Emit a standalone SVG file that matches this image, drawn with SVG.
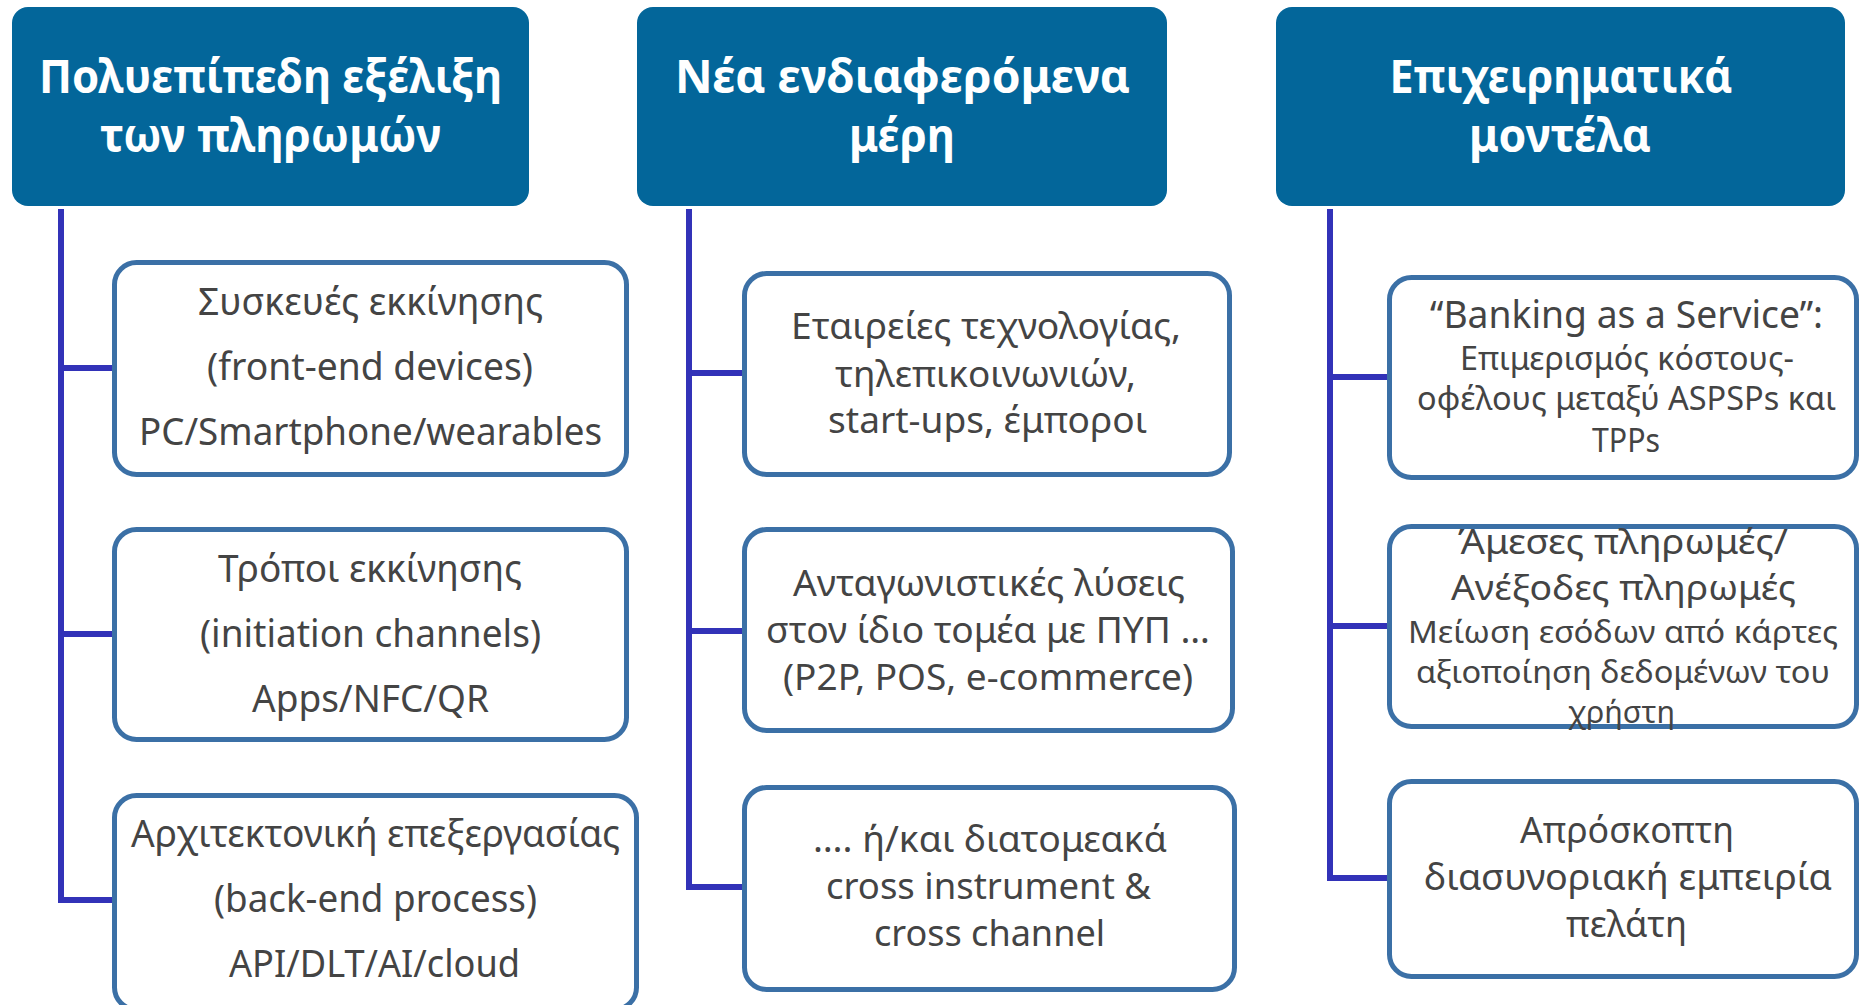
<svg xmlns="http://www.w3.org/2000/svg" width="1861" height="1005" viewBox="0 0 1861 1005">
<style>
.hdr{fill:#03669A}
.box{fill:#FFFFFF;stroke:#3B70A6;stroke-width:5}
.ht{font-family:"Noto Sans","Open Sans","Liberation Sans",sans-serif;font-weight:bold;font-size:46px;fill:#FFFFFF;text-anchor:middle}
.t{font-family:"Noto Sans","Open Sans","Liberation Sans",sans-serif;fill:#444444;text-anchor:middle}
.s38{font-size:38px}
.s36{font-size:36px}
.s35{font-size:35px}
.s32{font-size:32px}
.s31{font-size:31px}
.conn{fill:none;stroke:#3232B8;stroke-width:6;stroke-linecap:butt;stroke-linejoin:miter}
</style>
<rect width="1861" height="1005" fill="#FFFFFF"/>
<g id="connectors">
<path class="conn" d="M61,209 V900 H112 M61,368 H112 M61,634 H112"/>
<path class="conn" d="M689,209 V887 H742 M689,373 H742 M689,631 H742"/>
<path class="conn" d="M1330,209 V878 H1387 M1330,377 H1387 M1330,626 H1387"/>
</g>
<g id="header1">
<rect class="hdr" x="12" y="7" width="517" height="199" rx="16"/>
<text class="ht" x="270.5" y="93" textLength="463" lengthAdjust="spacingAndGlyphs">Πολυεπίπεδη εξέλιξη</text>
<text class="ht" x="270.5" y="152" textLength="341" lengthAdjust="spacingAndGlyphs">των πληρωμών</text>
</g>
<g id="header2">
<rect class="hdr" x="637" y="7" width="530" height="199" rx="16"/>
<text class="ht" x="902.5" y="93" textLength="455" lengthAdjust="spacingAndGlyphs">Νέα ενδιαφερόμενα</text>
<text class="ht" x="902" y="152" textLength="106" lengthAdjust="spacingAndGlyphs">μέρη</text>
</g>
<g id="header3">
<rect class="hdr" x="1276" y="7" width="569" height="199" rx="16"/>
<text class="ht" x="1561" y="93" textLength="343" lengthAdjust="spacingAndGlyphs">Επιχειρηματικά</text>
<text class="ht" x="1560" y="152" textLength="182" lengthAdjust="spacingAndGlyphs">μοντέλα</text>
</g>
<g id="box1">
<rect class="box" x="114.5" y="262.5" width="512" height="212" rx="22"/>
<text class="t s38" x="370.5" y="315" textLength="345" lengthAdjust="spacingAndGlyphs">Συσκευές εκκίνησης</text>
<text class="t s38" x="370" y="380" textLength="326" lengthAdjust="spacingAndGlyphs">(front-end devices)</text>
<text class="t s38" x="370.5" y="445" textLength="463" lengthAdjust="spacingAndGlyphs">PC/Smartphone/wearables</text>
</g>
<g id="box2">
<rect class="box" x="114.5" y="529.5" width="512" height="210" rx="22"/>
<text class="t s38" x="370" y="582" textLength="304" lengthAdjust="spacingAndGlyphs">Τρόποι εκκίνησης</text>
<text class="t s38" x="370.5" y="647" textLength="341" lengthAdjust="spacingAndGlyphs">(initiation channels)</text>
<text class="t s38" x="370.5" y="712" textLength="237" lengthAdjust="spacingAndGlyphs">Apps/NFC/QR</text>
</g>
<g id="box3">
<rect class="box" x="114.5" y="795.5" width="522" height="214" rx="22"/>
<text class="t s38" x="375.5" y="847" textLength="489" lengthAdjust="spacingAndGlyphs">Αρχιτεκτονική επεξεργασίας</text>
<text class="t s38" x="375.5" y="912" textLength="323" lengthAdjust="spacingAndGlyphs">(back-end process)</text>
<text class="t s38" x="374.5" y="977" textLength="291" lengthAdjust="spacingAndGlyphs">API/DLT/AI/cloud</text>
</g>
<g id="box4">
<rect class="box" x="744.5" y="273.5" width="485" height="201" rx="22"/>
<text class="t s36" x="986" y="339" textLength="390" lengthAdjust="spacingAndGlyphs">Εταιρείες τεχνολογίας,</text>
<text class="t s36" x="985.5" y="387" textLength="301" lengthAdjust="spacingAndGlyphs">τηλεπικοινωνιών,</text>
<text class="t s36" x="987.5" y="433" textLength="319" lengthAdjust="spacingAndGlyphs">start-ups, έμποροι</text>
</g>
<g id="box5">
<rect class="box" x="744.5" y="529.5" width="488" height="201" rx="22"/>
<text class="t s36" x="989" y="596" textLength="392" lengthAdjust="spacingAndGlyphs">Ανταγωνιστικές λύσεις</text>
<text class="t s36" x="988" y="643" textLength="444" lengthAdjust="spacingAndGlyphs">στον ίδιο τομέα με ΠΥΠ …</text>
<text class="t s36" x="988" y="690" textLength="410" lengthAdjust="spacingAndGlyphs">(P2P, POS, e-commerce)</text>
</g>
<g id="box6">
<rect class="box" x="744.5" y="787.5" width="490" height="202" rx="22"/>
<text class="t s36" x="990" y="852" textLength="354" lengthAdjust="spacingAndGlyphs">…. ή/και διατομεακά</text>
<text class="t s36" x="988.5" y="899" textLength="325" lengthAdjust="spacingAndGlyphs">cross instrument &amp;</text>
<text class="t s36" x="989.5" y="946" textLength="231" lengthAdjust="spacingAndGlyphs">cross channel</text>
</g>
<g id="box7">
<rect class="box" x="1389.5" y="277.5" width="467" height="200" rx="22"/>
<text class="t s38" x="1626.5" y="328" textLength="393" lengthAdjust="spacingAndGlyphs">“Banking as a Service”:</text>
<text class="t s32" x="1627" y="370" textLength="334" lengthAdjust="spacingAndGlyphs">Επιμερισμός κόστους-</text>
<text class="t s32" x="1626.5" y="410" textLength="419" lengthAdjust="spacingAndGlyphs">οφέλους μεταξύ ASPSPs και</text>
<text class="t s32" x="1626" y="452" textLength="68" lengthAdjust="spacingAndGlyphs">TPPs</text>
</g>
<g id="box8">
<rect class="box" x="1389.5" y="526.5" width="467" height="200" rx="22"/>
<text class="t s35" x="1623" y="554" textLength="330" lengthAdjust="spacingAndGlyphs">Άμεσες πληρωμές/</text>
<text class="t s35" x="1623.5" y="600" textLength="345" lengthAdjust="spacingAndGlyphs">Ανέξοδες πληρωμές</text>
<text class="t s31" x="1623" y="643" textLength="430" lengthAdjust="spacingAndGlyphs">Μείωση εσόδων από κάρτες</text>
<text class="t s31" x="1623" y="683" textLength="414" lengthAdjust="spacingAndGlyphs">αξιοποίηση δεδομένων του</text>
<text class="t s31" x="1621.5" y="723" textLength="107" lengthAdjust="spacingAndGlyphs">χρήστη</text>
</g>
<g id="box9">
<rect class="box" x="1389.5" y="781.5" width="467" height="195" rx="22"/>
<text class="t s36" x="1627" y="843" textLength="214" lengthAdjust="spacingAndGlyphs">Απρόσκοπτη</text>
<text class="t s36" x="1628" y="890" textLength="408" lengthAdjust="spacingAndGlyphs">διασυνοριακή εμπειρία</text>
<text class="t s36" x="1626.5" y="937" textLength="121" lengthAdjust="spacingAndGlyphs">πελάτη</text>
</g>
</svg>
